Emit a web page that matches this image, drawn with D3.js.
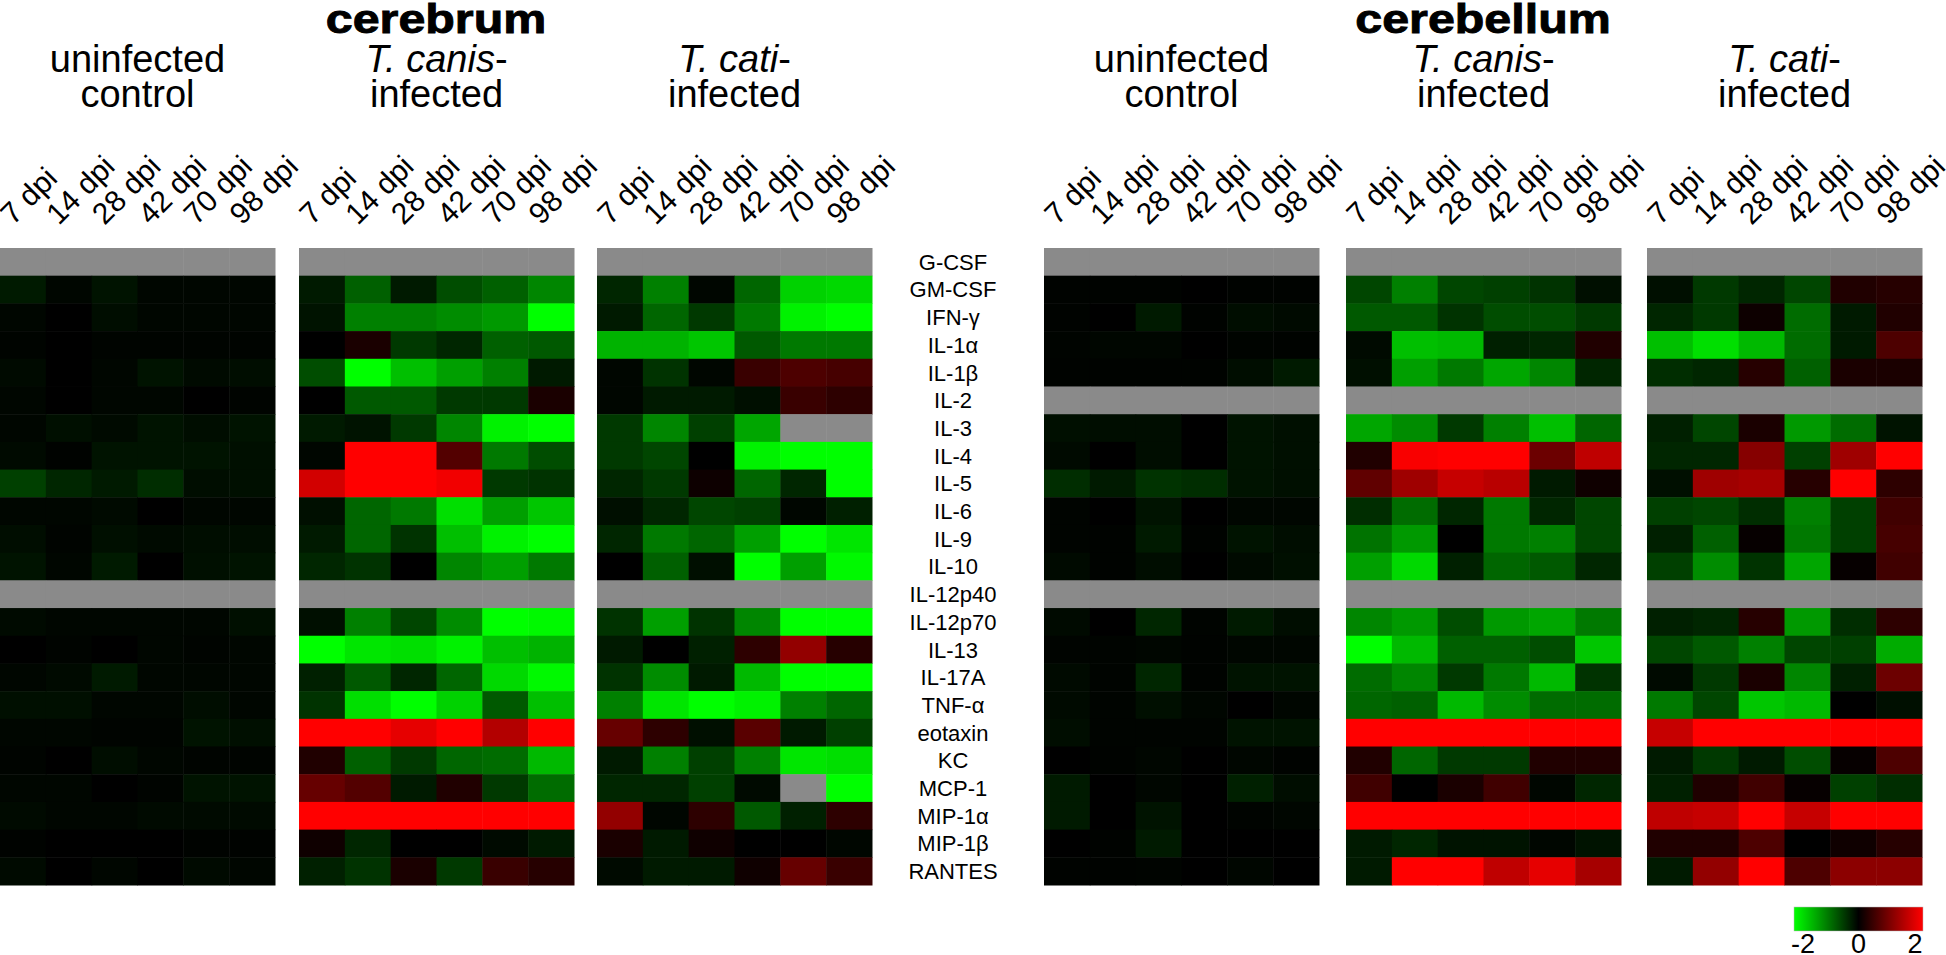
<!DOCTYPE html>
<html><head><meta charset="utf-8">
<script src="https://cdn.jsdelivr.net/npm/d3@7"></script>
<style>
html,body{margin:0;padding:0;background:#fff;}
svg{display:block;font-family:"Liberation Sans",Arial,sans-serif;}
</style></head>
<body><svg id="chart" width="1946" height="955"></svg>
<script>
const cytokines = ["G-CSF","GM-CSF","IFN-γ","IL-1α","IL-1β","IL-2","IL-3","IL-4","IL-5","IL-6","IL-9","IL-10","IL-12p40","IL-12p70","IL-13","IL-17A","TNF-α","eotaxin","KC","MCP-1","MIP-1α","MIP-1β","RANTES"];
const timepoints = ["7 dpi","14 dpi","28 dpi","42 dpi","70 dpi","98 dpi"];
const tissues = ["cerebrum","cerebellum"];
const legendTicks = [-2,0,2];
const N = null;

const cerebrumControl = [
[N,N,N,N,N,N],
[-0.2,-0.05,-0.15,-0.05,-0.05,-0.05],
[-0.05,0,-0.1,-0.05,-0.05,-0.05],
[-0.03,0,-0.03,-0.03,-0.03,-0.03],
[-0.08,0,-0.05,-0.15,-0.08,-0.1],
[-0.05,0,-0.05,-0.05,0,-0.03],
[-0.05,-0.12,-0.08,-0.15,-0.1,-0.15],
[-0.08,-0.02,-0.15,-0.15,-0.15,-0.12],
[-0.5,-0.3,-0.2,-0.35,-0.1,-0.12],
[-0.05,-0.05,-0.08,0,-0.05,-0.05],
[-0.1,-0.03,-0.12,-0.08,-0.1,-0.1],
[-0.15,-0.05,-0.2,0,-0.12,-0.15],
[N,N,N,N,N,N],
[-0.08,-0.05,-0.05,-0.05,-0.05,-0.12],
[0,-0.03,0,-0.05,-0.03,-0.05],
[-0.05,-0.08,-0.2,-0.05,-0.05,-0.05],
[-0.12,-0.12,-0.05,-0.05,-0.1,-0.05],
[-0.05,-0.05,-0.03,-0.03,-0.15,-0.12],
[-0.03,0,-0.1,-0.05,-0.03,-0.03],
[-0.05,-0.05,0,-0.03,-0.15,-0.15],
[-0.08,-0.05,-0.05,-0.08,-0.08,-0.08],
[-0.02,0,0,0,-0.02,-0.02],
[-0.08,0,-0.05,0,-0.08,-0.05]
];
const cerebrumCanis = [
[N,N,N,N,N,N],
[-0.2,-0.75,-0.2,-0.6,-0.75,-1.05],
[-0.15,-1.0,-1.0,-1.1,-1.2,-2.0],
[0,0.2,-0.45,-0.3,-0.75,-0.7],
[-0.6,-2.0,-1.5,-1.25,-1.0,-0.2],
[0,-0.7,-0.7,-0.45,-0.45,0.2],
[-0.2,-0.15,-0.45,-1.05,-1.9,-2.0],
[-0.05,2,2,0.65,-0.95,-0.6],
[1.65,2,2,1.9,-0.45,-0.4],
[-0.12,-0.8,-0.95,-1.75,-1.25,-1.55],
[-0.2,-0.8,-0.4,-1.5,-1.9,-2.0],
[-0.3,-0.4,0,-1.05,-1.25,-0.95],
[N,N,N,N,N,N],
[-0.12,-1.0,-0.55,-1.1,-2.0,-1.95],
[-2.0,-1.8,-1.75,-1.9,-1.5,-1.4],
[-0.25,-0.7,-0.3,-0.8,-1.7,-1.95],
[-0.4,-1.75,-2.0,-1.65,-0.7,-1.5],
[2,2,1.8,2,1.4,2],
[0.25,-0.75,-0.45,-0.8,-0.85,-1.45],
[0.8,0.65,-0.2,0.25,-0.45,-0.85],
[2,2,2,2,2,2],
[0.12,-0.3,0,0,-0.08,-0.2],
[-0.25,-0.4,0.2,-0.45,0.45,0.3]
];
const cerebrumCati = [
[N,N,N,N,N,N],
[-0.3,-1.0,-0.05,-0.8,-1.65,-1.7],
[-0.2,-0.8,-0.45,-0.95,-1.9,-2.0],
[-1.4,-1.4,-1.55,-0.7,-0.95,-0.95],
[-0.05,-0.4,-0.05,0.45,0.6,0.55],
[-0.05,-0.2,-0.2,-0.12,0.45,0.35],
[-0.45,-1.05,-0.5,-1.3,N,N],
[-0.45,-0.55,0,-1.9,-2.0,-2.0],
[-0.3,-0.45,0.1,-0.8,-0.3,-2.0],
[-0.12,-0.3,-0.55,-0.5,-0.05,-0.25],
[-0.3,-0.95,-0.8,-1.25,-2.0,-1.8],
[0,-0.75,-0.12,-2.0,-1.25,-1.95],
[N,N,N,N,N,N],
[-0.4,-1.25,-0.4,-1.05,-2.0,-2.0],
[-0.2,0,-0.25,0.35,1.15,0.3],
[-0.4,-1.1,-0.2,-1.45,-2.0,-2.0],
[-1.0,-1.8,-2.0,-1.9,-1.0,-0.8],
[0.8,0.35,-0.12,0.7,-0.2,-0.5],
[-0.2,-1.0,-0.5,-1.0,-1.8,-1.75],
[-0.3,-0.3,-0.5,-0.08,N,-2.0],
[1.15,-0.05,0.35,-0.7,-0.25,0.35],
[0.2,-0.2,0.12,0,0,-0.05],
[-0.08,-0.2,-0.2,0.12,0.8,0.45]
];
const cerebellumControl = [
[N,N,N,N,N,N],
[-0.02,-0.02,-0.02,0,-0.02,-0.02],
[-0.02,0,-0.2,-0.02,-0.1,-0.08],
[-0.03,-0.05,-0.05,0,-0.03,-0.02],
[-0.02,-0.02,-0.02,-0.02,-0.1,-0.2],
[N,N,N,N,N,N],
[-0.12,-0.1,-0.1,0,-0.15,-0.12],
[-0.08,0,-0.1,0,-0.15,-0.12],
[-0.35,-0.2,-0.4,-0.35,-0.15,-0.12],
[-0.03,0,-0.15,0,-0.05,-0.05],
[-0.03,-0.02,-0.2,-0.02,-0.15,-0.1],
[-0.08,-0.02,-0.1,0,-0.08,-0.12],
[N,N,N,N,N,N],
[-0.08,0,-0.3,-0.03,-0.2,-0.1],
[-0.03,-0.03,-0.05,-0.02,-0.05,-0.05],
[-0.08,-0.03,-0.3,-0.02,-0.15,-0.15],
[-0.08,-0.03,-0.12,-0.05,0,-0.05],
[-0.1,-0.03,-0.03,-0.03,-0.15,-0.15],
[0,-0.02,-0.05,0,-0.05,-0.02],
[-0.2,0,-0.05,0,-0.25,-0.1],
[-0.2,0,-0.15,0,-0.03,-0.05],
[0,-0.02,-0.2,0,0,0],
[-0.02,-0.02,-0.03,0,-0.05,0]
];
const cerebellumCanis = [
[N,N,N,N,N,N],
[-0.55,-1.0,-0.55,-0.5,-0.4,-0.12],
[-0.7,-0.7,-0.4,-0.6,-0.6,-0.45],
[-0.08,-1.5,-1.45,-0.25,-0.3,0.25],
[-0.12,-1.25,-0.95,-1.3,-1.05,-0.3],
[N,N,N,N,N,N],
[-1.3,-1.1,-0.45,-1.0,-1.5,-0.8],
[0.25,1.95,2,2,0.85,1.5],
[0.75,1.25,1.55,1.45,-0.2,0.12],
[-0.35,-0.85,-0.3,-0.95,-0.3,-0.55],
[-0.9,-1.2,0,-0.95,-1.0,-0.55],
[-1.25,-1.7,-0.25,-0.8,-0.7,-0.3],
[N,N,N,N,N,N],
[-1.05,-1.2,-0.6,-1.2,-1.3,-0.95],
[-2.0,-1.45,-0.75,-0.75,-0.6,-1.55],
[-0.85,-1.05,-0.45,-0.95,-1.45,-0.4],
[-0.8,-0.75,-1.45,-1.1,-0.85,-0.85],
[2,2,2,2,2,2],
[0.25,-0.8,-0.45,-0.45,0.25,0.25],
[0.5,0,0.2,0.5,-0.05,-0.3],
[2,2,2,2,2,2],
[-0.2,-0.3,-0.15,-0.15,-0.05,-0.15],
[-0.2,2,2,1.5,1.8,1.3]
];
const cerebellumCati = [
[N,N,N,N,N,N],
[-0.12,-0.45,-0.3,-0.55,0.25,0.3],
[-0.3,-0.45,0.1,-0.85,-0.2,0.25],
[-1.5,-1.75,-1.45,-0.85,-0.2,0.6],
[-0.35,-0.3,0.3,-0.75,0.2,0.2],
[N,N,N,N,N,N],
[-0.25,-0.55,0.2,-1.2,-0.85,-0.15],
[-0.3,-0.3,1.05,-0.5,1.25,2],
[-0.12,1.25,1.3,0.3,2,0.35],
[-0.5,-0.55,-0.35,-1.0,-0.5,0.5],
[-0.25,-0.75,0.05,-0.95,-0.5,0.55],
[-0.5,-1.1,-0.4,-1.3,0.05,0.5],
[N,N,N,N,N,N],
[-0.25,-0.3,0.3,-1.2,-0.35,0.35],
[-0.55,-0.7,-1.0,-0.55,-0.5,-1.35],
[-0.08,-0.45,0.2,-1.05,-0.25,0.85],
[-0.95,-0.55,-1.55,-1.45,0,-0.12],
[1.55,2,2,2,2,2],
[-0.2,-0.45,-0.2,-0.6,0.05,0.6],
[-0.25,0.25,0.5,0.05,-0.5,-0.35],
[1.5,1.55,2,1.55,2,2],
[0.25,0.25,0.6,0,0.12,0.3],
[-0.2,1.15,2,0.6,1.1,1.1]
];

const panels = [
  {head:[["uninfected",false,""],["control",false,""]], data:cerebrumControl},
  {head:[["T. canis",true,"-"],["infected",false,""]], data:cerebrumCanis},
  {head:[["T. cati",true,"-"],["infected",false,""]], data:cerebrumCati},
  {head:[["uninfected",false,""],["control",false,""]], data:cerebellumControl},
  {head:[["T. canis",true,"-"],["infected",false,""]], data:cerebellumCanis},
  {head:[["T. cati",true,"-"],["infected",false,""]], data:cerebellumCati}
];

// layout
const panelX = [0, 299, 597, 1044, 1346, 1647];
const panelW = 275;
const mapTop = 248, mapBottom = 885;
const svg = d3.select("#chart");
const color = d3.scaleLinear().domain([-2,0,2]).range(["#00ff00","#000000","#ff0000"]).clamp(true);
const missing = "#8a8a8a";
const y = d3.scaleBand().domain(cytokines).range([mapTop,mapBottom]);

panels.forEach((p,pi)=>{
  const x = d3.scaleBand().domain(timepoints).range([panelX[pi], panelX[pi]+panelW]);
  const g = svg.append("g");
  p.data.forEach((row,ri)=>{
    g.selectAll(null).data(row).enter().append("rect")
      .attr("x",(d,ci)=>x(timepoints[ci]))
      .attr("y",y(cytokines[ri]))
      .attr("width",x.bandwidth()+0.5)
      .attr("height",y.bandwidth()+0.5)
      .attr("fill",d=> d===null ? missing : color(d));
  });
  timepoints.forEach(t=>{
    const cx = x(t)+x.bandwidth()/2 - 10;
    svg.append("text")
      .attr("transform",`translate(${cx},226) rotate(-45)`)
      .attr("font-size",30).attr("fill","#000")
      .text(t);
  });
  const cxp = panelX[pi]+panelW/2;
  p.head.forEach((h,li)=>{
    const t = svg.append("text").attr("x",cxp).attr("y",72+li*35)
      .attr("text-anchor","middle").attr("font-size",38).attr("fill","#000");
    t.append("tspan").attr("font-style",h[1]?"italic":"normal").text(h[0]);
    if(h[2]) t.append("tspan").text(h[2]);
  });
});

tissues.forEach((tn,ti)=>{
  const x0 = panelX[ti*3], x1 = panelX[ti*3+2]+panelW;
  svg.append("text")
    .attr("transform",`translate(${(x0+x1)/2},33) scale(1.18,1)`)
    .attr("text-anchor","middle").attr("font-size",41).attr("font-weight","bold")
    .attr("fill","#000").attr("stroke","#000").attr("stroke-width",0.9).text(tn);
});

svg.selectAll(".rl").data(cytokines).enter().append("text")
  .attr("x",953).attr("y",d=>y(d)+y.bandwidth()/2)
  .attr("dy","0.36em").attr("text-anchor","middle")
  .attr("font-size",22).attr("fill","#000").text(d=>d);

const lx = d3.scaleLinear().domain([-2,2]).range([1794,1923]);
const defs = svg.append("defs");
const grad = defs.append("linearGradient").attr("id","lg");
[-2,-1,0,1,2].forEach(v=>grad.append("stop").attr("offset",((v+2)/4*100)+"%").attr("stop-color",color(v)));
svg.append("rect").attr("x",lx(-2)).attr("y",907).attr("width",lx(2)-lx(-2)).attr("height",24)
  .attr("fill","url(#lg)").attr("stroke","#bbb").attr("stroke-width",0.5);
svg.selectAll(".lt").data(legendTicks).enter().append("text")
  .attr("x",v=>lx(v)+(v===-2?9:(v===2?-8:0))).attr("y",953)
  .attr("text-anchor","middle").attr("font-size",27).attr("fill","#000").text(v=>v);
</script></body></html>
